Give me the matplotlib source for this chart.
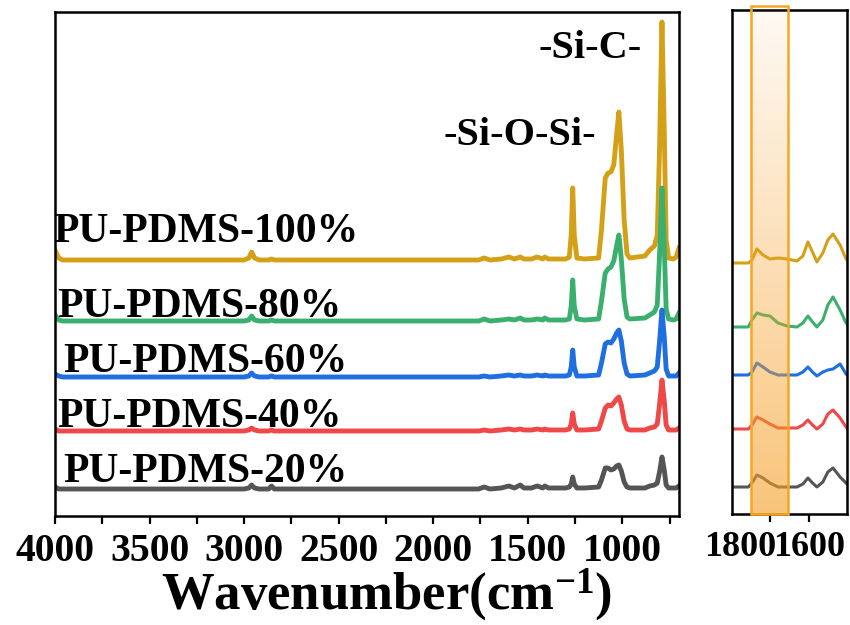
import matplotlib
matplotlib.use("Agg")
import matplotlib.pyplot as plt
import numpy as np
from matplotlib.ticker import MultipleLocator
from matplotlib.transforms import ScaledTranslation

# data (intensities above each curve's own baseline)
names = ["PU-PDMS-100%", "PU-PDMS-80%", "PU-PDMS-60%", "PU-PDMS-40%", "PU-PDMS-20%"]
colors = ["#D4A017", "#3BAF6E", "#1F6FE0", "#F04848", "#555555"]

wavenumber = [4000, 3980, 3960, 3500, 3000, 2975, 2960, 2945, 2920, 2870,
              2855, 2840, 2500, 2000, 1760, 1730, 1700, 1640, 1600, 1570,
              1540, 1520, 1480, 1450, 1420, 1410, 1390, 1300, 1280, 1270,
              1262, 1254, 1240, 1200, 1125, 1110, 1090, 1075, 1060, 1045,
              1030, 1018, 1005, 990, 975, 960, 880, 855, 830, 815,
              803, 790, 778, 768, 755, 730, 715, 700]

pdms_100 = [10, 2, 0, 0, 0, 2, 8, 2, 0, 0,
            1, 0, 0, 0, 0, 2, 0, 1, 3, 1,
            3, 1, 1, 3, 1, 3, 1, 1, 3, 25,
            72, 25, 2, 1, 2, 30, 82, 87, 88, 95,
            125, 148, 110, 40, 6, 2, 4, 10, 14, 25,
            110, 238, 130, 20, 2, 1, 3, 12]
pdms_80 = [6, 1, 0, 0, 0, 1, 5, 1, 0, 0,
           1, 0, 0, 0, 0, 2, 0, 1, 2, 1,
           3, 1, 1, 2, 1, 3, 1, 1, 2, 15,
           41, 15, 2, 1, 2, 20, 48, 52, 54, 60,
           75, 86, 62, 22, 4, 2, 3, 6, 9, 16,
           65, 133, 75, 12, 2, 1, 2, 8]
pdms_60 = [3, 1, 0, 0, 0, 1, 4, 1, 0, 0,
           1, 0, 0, 0, 0, 1, 0, 1, 2, 1,
           2, 1, 1, 2, 1, 2, 1, 1, 2, 10,
           27, 10, 1, 1, 2, 14, 33, 35, 34, 38,
           44, 47, 36, 14, 3, 1, 2, 4, 6, 10,
           35, 67, 40, 8, 1, 1, 1, 4]
pdms_40 = [2, 0, 0, 0, 0, 1, 3, 1, 0, 0,
           1, 0, 0, 0, 0, 1, 0, 1, 2, 1,
           2, 1, 1, 2, 1, 2, 1, 1, 2, 7,
           18, 7, 1, 1, 2, 10, 23, 26, 25, 28,
           32, 34, 26, 10, 2, 1, 1, 3, 4, 7,
           26, 51, 30, 6, 1, 1, 1, 3]
pdms_20 = [2, 0, 0, 0, 0, 1, 4, 1, 0, 0,
           3, 0, 0, 0, 0, 2, 0, 1, 3, 1,
           4, 1, 1, 3, 1, 3, 1, 1, 2, 5,
           12, 5, 1, 1, 2, 9, 21, 21, 19, 20,
           23, 24, 18, 7, 2, 1, 1, 3, 4, 6,
           17, 32, 19, 4, 1, 1, 1, 3]

# zoomed region 2000-1400
wavenumber_zoom = [2000, 1950, 1915, 1896, 1870, 1838, 1802, 1760, 1713, 1661,
                   1630, 1604, 1580, 1557, 1526, 1500, 1473, 1436, 1405, 1400]
zoom_100 = [0, 0, 0, 3, 14, 8, 4, 5, 4, 2, 7, 21, 11, 1, 10, 23, 29, 18, 4, 3]
zoom_80 = [0, 0, 0, 7, 14, 12, 11, 4, 1, 0, 4, 11, 5, 0, 7, 22, 30, 17, 4, 3]
zoom_60 = [0, 0, 0, 3, 12, 8, 3, 0, 0, 0, 3, 8, 3, -1, 3, 5, 6, 11, 1, 0]
zoom_40 = [0, 0, 0, 4, 12, 9, 5, 1, 1, 1, 4, 9, 4, 0, 5, 15, 19, 11, 2, 1]
zoom_20 = [0, 0, 0, 4, 12, 9, 4, 0, 0, 0, 3, 9, 4, 0, 5, 15, 19, 10, 4, 3]

main_series = [pdms_100, pdms_80, pdms_60, pdms_40, pdms_20]
zoom_series = [zoom_100, zoom_80, zoom_60, zoom_40, zoom_20]

# fonts
plt.rcParams["font.family"] = ["Liberation Serif", "DejaVu Serif"]
plt.rcParams["font.weight"] = "bold"
plt.rcParams["mathtext.fontset"] = "custom"
plt.rcParams["mathtext.rm"] = "Liberation Serif:bold"
plt.rcParams["mathtext.bf"] = "Liberation Serif:bold"
plt.rcParams["mathtext.it"] = "Liberation Serif:bold:italic"

fig = plt.figure(figsize=(8.5, 6.25), dpi=100)
ax = fig.add_axes([55 / 850, 1 - 516 / 625, 624 / 850, 504 / 625])
ax2 = fig.add_axes([732 / 850, 1 - 514 / 625, 115 / 850, 504 / 625])

# 主图
main_offsets = [256, 195, 139, 85, 27]
for ys, off, c in zip(main_series, main_offsets, colors):
    ax.plot(wavenumber, np.array(ys) + off, color=c, lw=3.5, solid_joinstyle="round")

ax.set_xlim(4000, 700)
ax.set_ylim(0, 504)
ax.set_yticks([])
ax.xaxis.set_major_locator(MultipleLocator(500))
ax.xaxis.set_minor_locator(MultipleLocator(250))
ax.tick_params(axis="x", which="both", direction="out", length=6, width=1.6,
               labelsize=28.5, pad=6)
for s in ax.spines.values():
    s.set_linewidth(1.8)

# labels on the curves
label_pos = [(4011, 274), (3989, 199), (3958, 144), (3989, 89), (3958, 34)]
for name, (x, y) in zip(names, label_pos):
    ax.text(x, y, name, fontsize=30, fontweight="bold", ha="left", va="baseline")

ax.text(1442, 458, "-Si-C-", fontsize=29, fontweight="bold", ha="left", va="baseline")
ax.text(1945, 371, "-Si-O-Si-", fontsize=29, fontweight="bold", ha="left", va="baseline")

ax.set_xlabel("Wavenumber(cm$^{\\mathregular{-1}}$)", fontsize=38, fontweight="bold")
ax.xaxis.set_label_coords(0.532, -0.1)

# 放大区域
zoom_offsets = [251, 187, 139, 85, 27]
for ys, off, c in zip(zoom_series, zoom_offsets, colors):
    ax2.plot(wavenumber_zoom, np.array(ys) + off, color=c, lw=2.2, solid_joinstyle="round")

ax2.set_xlim(2000, 1400)
ax2.set_ylim(0, 504)
ax2.set_yticks([])
ax2.set_xticks([1800, 1600])
ax2.tick_params(axis="x", direction="out", length=6, width=1.6, labelsize=26, pad=6)
for s in ax2.spines.values():
    s.set_linewidth(1.8)
lab = ax2.get_xticklabels()[0]
lab.set_transform(lab.get_transform() + ScaledTranslation(-0.30, 0, fig.dpi_scale_trans))

# highlighted band, light at the top and orange at the bottom
grad = np.zeros((100, 1, 4))
grad[..., 0] = 245 / 255
grad[..., 1] = 160 / 255
grad[..., 2] = 40 / 255
grad[:, 0, 3] = np.linspace(0.62, 0.06, 100)
ax2.imshow(grad, extent=[1900, 1710, 0, 504], origin="lower", aspect="auto", zorder=3)
ax2.add_patch(plt.Rectangle((1900, 0), -190, 508, fill=False, edgecolor="#F5A623",
                            lw=1.8, zorder=4, clip_on=False))
ax2.set_xlim(2000, 1400)
ax2.set_ylim(0, 504)

plt.savefig("out.png", dpi=100)
